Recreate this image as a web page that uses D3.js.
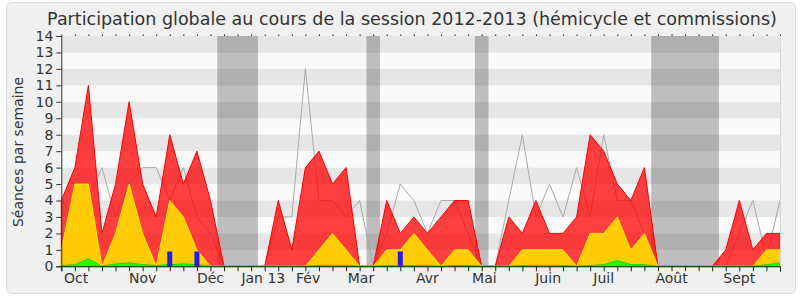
<!DOCTYPE html>
<html>
<head>
<meta charset="utf-8">
<script src="https://cdn.jsdelivr.net/npm/d3@7"></script>
<style>
  body { margin: 0; background: #fff; }
  svg { display: block; font-family: "DejaVu Sans", sans-serif; }
</style>
</head>
<body>
<div id="chart"></div>
<script>
// weekly values, session 2012-2013 (54 weeks)
const presences = [4,6,11,2,5,10,5,3,8,5,7,4,0,0,0,0,4,1,6,7,5,6,0,0,4,2,3,2,3,4,4,0,0,3,2,4,2,2,3,8,7,5,4,6,0,0,0,0,0,1,4,1,2,2];
const participations = [1,5,5,0,2,5,2,0,4,3,1,0,0,0,0,0,0,0,0,1,2,1,0,0,1,1,2,1,0,1,1,0,0,0,1,1,1,1,0,2,2,3,1,2,0,0,0,0,0,0,0,0,1,1];
const interventions = [0.05,0.1,0.45,0,0.15,0.2,0.1,0.05,0.1,0.15,0.1,0,0,0,0,0,0,0,0,0.05,0.05,0.05,0,0,0.05,0.05,0.05,0.05,0,0.05,0.05,0,0,0,0.05,0.05,0.05,0.05,0,0.05,0.1,0.35,0.1,0.1,0,0,0,0,0,0,0,0,0.1,0.2];
const mediane = [4,3,4,6,3,5,6,6,4,6,3,2,0,0,0,0,3,3,12,4,4,3,4,0,2,5,4,2,4,4,2,0,0,4,8,3,5,3,6,3,8,4,4,2,0,0,0,0,0,0,2,4,0.5,4];
const questions = [0,0,0,0,0,0,0,0,0.9,0,0.9,0,0,0,0,0,0,0,0,0,0,0,0,0,0,0.9,0,0,0,0,0,0,0,0,0,0,0,0,0,0,0,0,0,0,0,0,0,0,0,0,0,0,0,0];
// parliamentary holidays, in weeks
const vacances = [[11.5,14.5],[22.5,23.5],[30.5,31.5],[43.5,48.5]];
// month labels, positioned on week index
const monthWeeks = [1.1,6,11,14.9,18.2,22.1,27,31.2,35.9,40,45,50];
const monthLabels = ["Oct","Nov","Déc","Jan 13","Fév","Mar","Avr","Mai","Juin","Juil","Août","Sept"];
const yTicks = d3.range(0, 15);

const width = 800, height = 300;
const margin = {top: 36, right: 20, bottom: 33.7, left: 61.3};

const svg = d3.select("#chart").append("svg")
  .attr("width", width)
  .attr("height", height);

// panel background
svg.append("rect")
  .attr("x", 6.5).attr("y", 2.5)
  .attr("width", 789).attr("height", 291)
  .attr("rx", 5)
  .attr("fill", "#f0f0f0")
  .attr("stroke", "#dddddd");

let x = d3.scaleLinear().domain([0, presences.length - 1]).range([margin.left, width - margin.right]);
let y = d3.scaleLinear().domain([0, 14]).range([height - margin.bottom, margin.top]);

let plot = svg.append("g");

// striped background
plot.selectAll("rect.stripe")
  .data(d3.range(0, 14))
  .enter().append("rect")
  .attr("class", "stripe")
  .attr("x", x(0))
  .attr("width", x(presences.length - 1) - x(0))
  .attr("y", d => y(d + 1))
  .attr("height", d => y(d) - y(d + 1))
  .attr("fill", d => d % 2 ? "#e6e6e6" : "#fafafa");

// holidays
plot.selectAll("rect.vac")
  .data(vacances)
  .enter().append("rect")
  .attr("x", d => x(d[0]))
  .attr("width", d => x(d[1]) - x(d[0]))
  .attr("y", y(14))
  .attr("height", y(0) - y(14))
  .attr("fill", "rgba(0,0,0,0.24)");

// median line
plot.append("path")
  .datum(mediane)
  .attr("fill", "none")
  .attr("stroke", "#aaaaaa")
  .attr("stroke-width", 1)
  .attr("d", d3.line().x((d, i) => x(i)).y(d => y(d)));

const area = d3.area().x((d, i) => x(i)).y0(y(0)).y1(d => y(d));

const series = [
  {values: presences, fill: "rgba(255,0,0,0.75)", stroke: "#ff0000"},
  {values: participations, fill: "rgba(255,220,0,0.9)", stroke: "#ffee00"},
  {values: interventions, fill: "rgba(0,255,0,0.8)", stroke: "#00dd00"}
];

plot.selectAll("path.area")
  .data(series)
  .enter().append("path")
  .attr("class", "area")
  .attr("d", d => area(d.values))
  .attr("fill", d => d.fill)
  .attr("stroke", d => d.stroke)
  .attr("stroke-width", 1);

// questions bars
plot.selectAll("rect.q")
  .data(questions.map((v, i) => [i, v]).filter(d => d[1] > 0))
  .enter().append("rect")
  .attr("x", d => x(d[0]) - 2.5)
  .attr("width", 5)
  .attr("y", d => y(d[1]))
  .attr("height", d => y(0) - y(d[1]))
  .attr("fill", "#1e1ee6");

// axes
let yAxis = d3.axisLeft(y).tickValues(yTicks).tickSize(5).tickPadding(3);
let gy = svg.append("g").attr("transform", `translate(${margin.left},0)`).call(yAxis);
gy.select(".domain").attr("stroke", "#333");
gy.selectAll(".tick line").attr("stroke", "#333");
gy.selectAll("text").attr("font-size", 14).attr("fill", "#333").attr("font-family", "DejaVu Sans");

let xAxis = d3.axisBottom(x).tickValues(d3.range(0, presences.length)).tickSize(5).tickFormat("");
let gx = svg.append("g").attr("transform", `translate(0,${y(0)})`).call(xAxis);
gx.select(".domain").attr("stroke", "#222");
gx.selectAll(".tick line").attr("stroke", "#222");

let xTop = d3.axisTop(x).tickValues(d3.range(0, presences.length)).tickSize(1.5).tickFormat("");
let gt = svg.append("g").attr("transform", `translate(0,${y(14)})`).call(xTop);
gt.select(".domain").remove();
gt.selectAll(".tick line").attr("stroke", "#222");

svg.append("g").selectAll("text")
  .data(monthLabels)
  .enter().append("text")
  .attr("x", (d, i) => x(monthWeeks[i]))
  .attr("y", 283)
  .attr("text-anchor", "middle")
  .attr("font-size", 14)
  .attr("fill", "#333")
  .text(d => d);

// right border of the plot
svg.append("line")
  .attr("x1", x(presences.length - 1) + 0.5).attr("x2", x(presences.length - 1) + 0.5)
  .attr("y1", y(14)).attr("y2", y(0))
  .attr("stroke", "#d8d8d8");

svg.append("text")
  .attr("transform", "translate(23,152) rotate(-90)")
  .attr("text-anchor", "middle")
  .attr("font-size", 14)
  .attr("fill", "#333")
  .text("Séances par semaine");

svg.append("text")
  .attr("x", 412)
  .attr("y", 25)
  .attr("text-anchor", "middle")
  .attr("font-size", 17.5)
  .attr("fill", "#333")
  .text("Participation globale au cours de la session 2012-2013 (hémicycle et commissions)");
</script>
</body>
</html>
